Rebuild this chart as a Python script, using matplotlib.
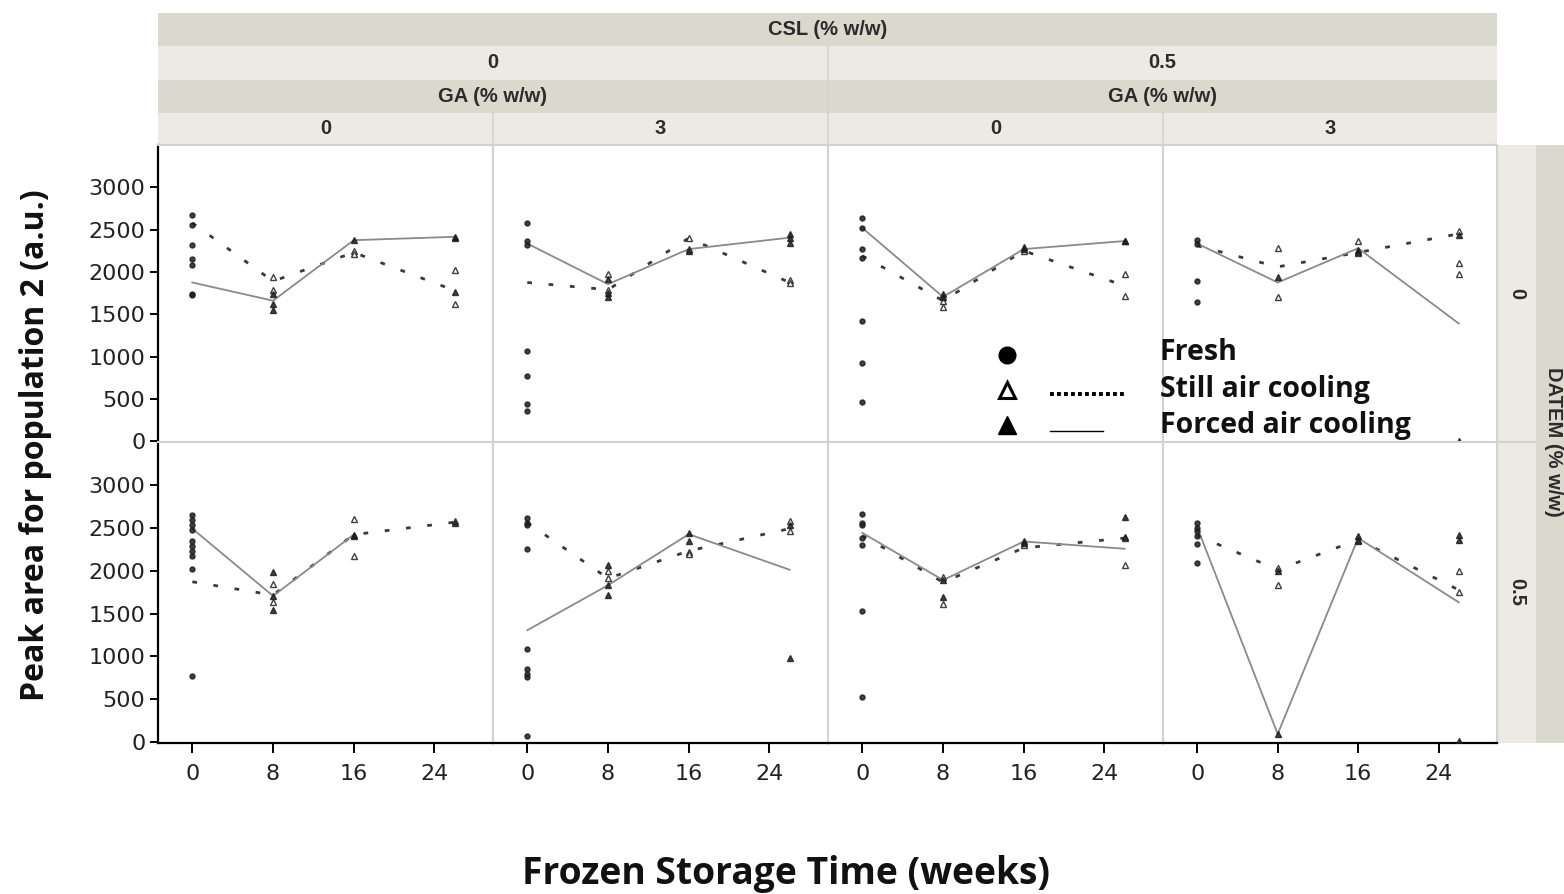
import numpy as np
import matplotlib.pyplot as plt
from matplotlib.lines import Line2D
from matplotlib.patches import Rectangle

# ---------------------------------------------------------------- data
weeks = [0, 8, 16, 26]
week_ticks = [0, 8, 16, 24]
y_ticks = [0, 500, 1000, 1500, 2000, 2500, 3000]

csl_levels = ["0", "0.5"]
ga_levels = ["0", "3"]
datem_levels = ["0", "0.5"]

# keys: (DATEM, CSL, GA)
still_mean = {
    ("0", "0", "0"):     [2580, 1890, 2230, 1780],
    ("0", "0", "3"):     [1875, 1790, 2400, 1875],
    ("0", "0.5", "0"):   [2190, 1660, 2250, 1835],
    ("0", "0.5", "3"):   [2310, 2060, 2230, 2450],
    ("0.5", "0", "0"):   [1870, 1715, 2420, 2565],
    ("0.5", "0", "3"):   [2560, 1910, 2230, 2490],
    ("0.5", "0.5", "0"): [2410, 1865, 2265, 2380],
    ("0.5", "0.5", "3"): [2410, 2010, 2360, 1775],
}
forced_mean = {
    ("0", "0", "0"):     [1875, 1660, 2375, 2415],
    ("0", "0", "3"):     [2335, 1855, 2270, 2405],
    ("0", "0.5", "0"):   [2520, 1705, 2270, 2365],
    ("0", "0.5", "3"):   [2335, 1875, 2280, 1390],
    ("0.5", "0", "0"):   [2490, 1705, 2420, np.nan],
    ("0.5", "0", "3"):   [1305, 1830, 2425, 2010],
    ("0.5", "0.5", "0"): [2440, 1890, 2340, 2255],
    ("0.5", "0.5", "3"): [2505, 95, 2380, 1630],
}
# replicate values of the fresh dough (week 0)
fresh_pts = {
    ("0", "0", "0"):     [2670, 2555, 2320, 2155, 2080, 1745, 1730],
    ("0", "0", "3"):     [2580, 2365, 2320, 1065, 765, 435, 355],
    ("0", "0.5", "0"):   [2640, 2520, 2270, 2165, 1415, 920, 460],
    ("0", "0.5", "3"):   [2375, 2330, 1895, 1650],
    ("0.5", "0", "0"):   [2645, 2590, 2530, 2470, 2345, 2290, 2230, 2175, 2020, 770],
    ("0.5", "0", "3"):   [2615, 2560, 2530, 2255, 1090, 855, 800, 760, 75],
    ("0.5", "0.5", "0"): [2660, 2555, 2530, 2380, 2295, 1525, 525],
    ("0.5", "0.5", "3"): [2555, 2500, 2460, 2400, 2310, 2085],
}
# replicate values at weeks 8, 16 and 26
still_pts = {
    ("0", "0", "0"):     [[1935, 1790], [2250, 2215], [2025, 1625]],
    ("0", "0", "3"):     [[1980, 1790], [2405, 2270], [1905, 1865]],
    ("0", "0.5", "0"):   [[1660, 1580], [2250], [1975, 1720]],
    ("0", "0.5", "3"):   [[2285, 1700], [2365, 2220], [2480, 2100, 1975]],
    ("0.5", "0", "0"):   [[1840, 1640], [2605, 2175], [2575]],
    ("0.5", "0", "3"):   [[1990, 1910], [2215, 2195], [2580, 2460]],
    ("0.5", "0.5", "0"): [[1930, 1615], [2300], [2385, 2060]],
    ("0.5", "0.5", "3"): [[2030, 1830], [2360], [2000, 1755]],
}
forced_pts = {
    ("0", "0", "0"):     [[1740, 1625, 1555], [2375], [2415, 2400, 1765]],
    ("0", "0", "3"):     [[1920, 1750, 1700], [2250], [2445, 2400, 2345]],
    ("0", "0.5", "0"):   [[1740, 1700], [2290, 2270], [2365, 2360]],
    ("0", "0.5", "3"):   [[1940], [2260, 2240], [2440, 0]],
    ("0.5", "0", "0"):   [[1980, 1700, 1540], [2420, 2400], [2560]],
    ("0.5", "0", "3"):   [[2060, 1830, 1715], [2435, 2340], [2530, 980]],
    ("0.5", "0.5", "0"): [[1890, 1695], [2350, 2320], [2620, 2390]],
    ("0.5", "0.5", "3"): [[1990, 95], [2400, 2350], [2410, 2360, 15]],
}

legend_labels = ["Fresh", "Still air cooling", "Forced air cooling"]

# ---------------------------------------------------------------- layout
W, H = 1564, 894
fig = plt.figure(figsize=(W / 100, H / 100), dpi=100)
fig.patch.set_facecolor("white")


def fx(px):
    return px / W


def fy(py):
    return 1 - py / H


col_edges = [158, 493, 828, 1163, 1497]
row_edges = [145, 442, 743]
columns = [(csl, ga) for csl in csl_levels for ga in ga_levels]

STRIP_DARK = "#DAD9CD"
STRIP_LIGHT = "#ECEAE2"
GRID_GRAY = "#D2D2D2"
STRIP_TXT = "#2b2b2b"
strip_font = dict(family=["Liberation Sans Narrow", "Liberation Sans"],
                  weight="bold", size=14.5, color=STRIP_TXT)
tick_font = dict(family="DejaVu Sans", size=16, color="#222222")
label_font = dict(family=["Open Sans", "DejaVu Sans"], weight="bold",
                  color="#111111")

still_style = dict(color="#3a3a3a", lw=2.0, dashes=(1.7, 6.0),
                   dash_capstyle="butt", zorder=2)
forced_style = dict(color="#8a8a8a", lw=1.3, zorder=2)
pt_color = "#1e1e1e"

for r, datem in enumerate(datem_levels):
    for c, (csl, ga) in enumerate(columns):
        key = (datem, csl, ga)
        x0, x1 = col_edges[c], col_edges[c + 1]
        y0, y1 = row_edges[r], row_edges[r + 1]
        ax = fig.add_axes([fx(x0), fy(y1), (x1 - x0) / W, (y1 - y0) / H])
        ax.set_xlim(-3.4, 29.8)
        ax.set_ylim(-10, 3500)

        ax.plot(weeks, still_mean[key], **still_style)
        ax.plot(weeks, forced_mean[key], **forced_style)

        fr = fresh_pts[key]
        ax.plot([weeks[0]] * len(fr), fr, "o", ms=3.6, color=pt_color,
                mec=pt_color, alpha=0.85, zorder=3)
        for w, vals in zip(weeks[1:], still_pts[key]):
            ax.plot([w] * len(vals), vals, "^", ms=4.2, mfc="white",
                    mec=pt_color, mew=1.0, alpha=0.85, zorder=3)
        for w, vals in zip(weeks[1:], forced_pts[key]):
            ax.plot([w] * len(vals), vals, "^", ms=4.2, color=pt_color,
                    alpha=0.85, zorder=3)

        for s in ax.spines.values():
            s.set_color(GRID_GRAY)
            s.set_linewidth(1.5)

        ax.set_xticks(week_ticks)
        ax.set_yticks(y_ticks)
        if c == 0:
            ax.spines["left"].set_color("black")
            ax.spines["left"].set_linewidth(1.6)
            ax.tick_params(axis="y", length=6, width=1.4, color="black",
                           pad=3, labelsize=tick_font["size"],
                           labelcolor=tick_font["color"])
        else:
            ax.tick_params(axis="y", left=False, labelleft=False)
        if r == 1:
            ax.spines["bottom"].set_color("black")
            ax.spines["bottom"].set_linewidth(1.6)
            ax.tick_params(axis="x", length=7, width=1.4, color="black",
                           pad=8, labelsize=tick_font["size"],
                           labelcolor=tick_font["color"])
        else:
            ax.tick_params(axis="x", bottom=False, labelbottom=False)
        for lab in ax.get_xticklabels() + ax.get_yticklabels():
            lab.set_family(tick_font["family"])
        ax.set_facecolor("white")


def strip(xa, xb, ya, yb, color, text=None, rot=0):
    fig.add_artist(Rectangle((fx(xa), fy(yb)), (xb - xa) / W, (yb - ya) / H,
                             transform=fig.transFigure, facecolor=color,
                             edgecolor="none", zorder=0))
    if text is not None:
        fig.text(fx((xa + xb) / 2), fy((ya + yb) / 2), text, ha="center",
                 va="center", rotation=rot, **strip_font)


def vline(px, ya, yb, color="#F8F8F4", lw=1.2):
    fig.add_artist(Line2D([fx(px), fx(px)], [fy(ya), fy(yb)],
                          transform=fig.transFigure, color=color, lw=lw))


# column strips
strip(158, 1497, 13, 46, STRIP_DARK, "CSL (% w/w)")
for i, csl in enumerate(csl_levels):
    xa, xb = col_edges[2 * i], col_edges[2 * i + 2]
    strip(xa, xb, 46, 80, STRIP_LIGHT, csl)
    strip(xa, xb, 80, 113, STRIP_DARK, "GA (% w/w)")
for c, (csl, ga) in enumerate(columns):
    strip(col_edges[c], col_edges[c + 1], 113, 145, STRIP_LIGHT, ga)
vline(828, 46, 145, color="#D6D5CC")
for px in (493, 1163):
    vline(px, 113, 145, color="#D6D5CC")

# row strips
for r, datem in enumerate(datem_levels):
    strip(1497, 1536, row_edges[r], row_edges[r + 1], STRIP_LIGHT, datem, rot=-90)
strip(1536, 1580, 145, 743, STRIP_DARK)
fig.text(fx(1554), fy(442), "DATEM (% w/w)", ha="center", va="center",
         rotation=-90, **strip_font)
fig.add_artist(Line2D([fx(1497), fx(1536)], [fy(442), fy(442)],
                      transform=fig.transFigure, color=GRID_GRAY, lw=1.5))

# axis titles
fig.text(fx(36), fy(445), "Peak area for population 2 (a.u.)", rotation=90,
         ha="center", va="center", size=23, **label_font)
fig.text(fx(786), fy(874), "Frozen Storage Time (weeks)", ha="center",
         va="center", size=26.8, **label_font)

# legend
mk_x = fx(1007)
rows_y = [352, 389, 425]
fig.add_artist(Line2D([mk_x], [fy(355)], transform=fig.transFigure, marker="o",
                      ms=12, color="black", ls="none"))
fig.add_artist(Line2D([mk_x], [fy(390)], transform=fig.transFigure, marker="^",
                      ms=12, mfc="white", mec="black", mew=2.2, ls="none"))
fig.add_artist(Line2D([mk_x], [fy(425)], transform=fig.transFigure, marker="^",
                      ms=13, color="black", ls="none"))
fig.add_artist(Line2D([fx(1050), fx(1126)], [fy(394), fy(394)],
                      transform=fig.transFigure, color="black", lw=2.8,
                      dashes=(1.0, 0.8)))
fig.add_artist(Line2D([fx(1050), fx(1103)], [fy(431), fy(431)],
                      transform=fig.transFigure, color="black", lw=1.0))
for lab, py in zip(legend_labels, rows_y):
    fig.text(fx(1160), fy(py), lab, ha="left", va="center", size=20.5,
             **label_font)

fig.savefig("out.png", dpi=100, facecolor="white")
